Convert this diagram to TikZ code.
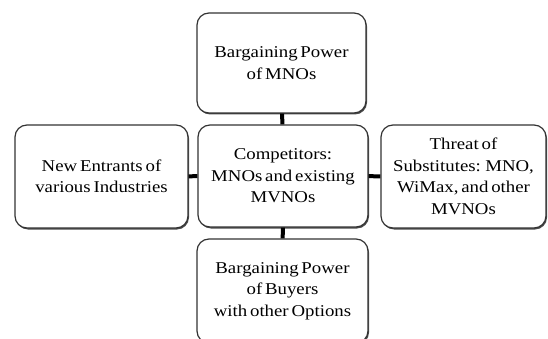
\documentclass[tikz,border=0pt]{standalone}
\usepackage{fontspec}
\setmainfont{Liberation Serif}[FakeStretch=1.14,WordSpace=0.6]
\usetikzlibrary{shadows}

\begin{document}
\begin{tikzpicture}[x=1pt,y=1pt,
    forcebox/.style={draw=black!80,line width=1.2pt,rounded corners=12pt,fill=white,
      drop shadow={shadow xshift=1pt,shadow yshift=-1.5pt,fill=black!70,opacity=1},
      align=center,inner sep=0pt,font=\fontsize{16.5}{21.5}\selectfont},
    link/.style={line width=4pt,black}]
    \useasboundingbox (0,0) rectangle (548,-339);
    \clip (0,0) rectangle (548,-339);
    \node[forcebox,minimum width=169pt,minimum height=100pt] (supplier) at (281.5,-63)
      {Bargaining Power\\of MNOs};
    \node[forcebox,minimum width=170pt,minimum height=102pt] (rivalry) at (283,-176)
      {Competitors:\\MNOs and existing\\MVNOs};
    \node[forcebox,minimum width=173pt,minimum height=103pt] (entrants) at (101.5,-176.5)
      {New Entrants of\\various Industries};
    \node[forcebox,minimum width=165pt,minimum height=103pt] (substitutes) at (463.5,-176.5)
      {Threat of\\Substitutes: MNO,\\WiMax, and other\\MVNOs};
    \node[forcebox,minimum width=171pt,minimum height=104pt] (buyers) at (282.5,-291)
      {Bargaining Power\\of Buyers\\with other Options};
    \draw[link] (supplier) -- (rivalry);
    \draw[link] (entrants) -- (rivalry);
    \draw[link] (rivalry) -- (substitutes);
    \draw[link] (rivalry) -- (buyers);
  \end{tikzpicture}
\end{document}
